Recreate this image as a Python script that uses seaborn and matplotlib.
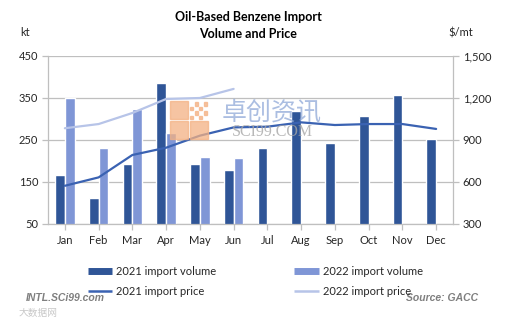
import numpy as np
import pandas as pd
import matplotlib
matplotlib.use("Agg")
import matplotlib.pyplot as plt
from matplotlib.lines import Line2D
from matplotlib.patches import Rectangle
import seaborn as sns

months = ["Jan", "Feb", "Mar", "Apr", "May", "Jun", "Jul", "Aug", "Sep", "Oct", "Nov", "Dec"]
vol_2021 = [167, 113, 192, 385, 194, 178, 232, 319, 242, 307, 357, 252]
vol_2022 = [350, 232, 324, 267, 210, 208]
price_2021 = [573, 633, 793, 845, 931, 990, 995, 1026, 1007, 1014, 1014, 979]
price_2022 = [984, 1014, 1093, 1193, 1200, 1265]
left_ticks = [50, 150, 250, 350, 450]
right_ticks = [300, 600, 900, 1200, 1500]

C_DARK = "#2F5597"
C_LIGHT = "#7F96D6"
C_L21 = "#3A62B2"
C_L22 = "#B7C4E8"
GRID = "#BFBFBF"
TXT = "#262626"

sns.set_theme(style="white")
plt.rcParams["font.family"] = ["Lato", "Noto Sans CJK SC", "DejaVu Sans"]

fig = plt.figure(figsize=(5.16, 3.24), dpi=100)
ax = fig.add_axes([48 / 516, 1 - 224 / 324, 405 / 516, 168 / 324])

rows = []
for m, v in zip(months, vol_2021):
    rows.append({"month": m, "year": "2021", "volume": v})
for m, v in zip(months, vol_2022):
    rows.append({"month": m, "year": "2022", "volume": v})
df_bar = pd.DataFrame(rows)

sns.barplot(data=df_bar, x="month", y="volume", hue="year", order=months,
            hue_order=["2021", "2022"], palette=[C_DARK, C_LIGHT], saturation=1,
            width=0.58, dodge=True, legend=False, ax=ax, zorder=2)

ax.set_ylim(50, 450)
ax.set_yticks(left_ticks)
ax.set_xlim(-0.5, len(months) - 0.5)
ax.yaxis.grid(True, color=GRID, lw=0.9, zorder=0)
ax.set_axisbelow(True)
ax.set_xlabel("")
ax.set_ylabel("")
for s in ["top", "right"]:
    ax.spines[s].set_visible(False)
for s in ["left", "bottom"]:
    ax.spines[s].set_color(GRID)
    ax.spines[s].set_linewidth(0.9)
ax.tick_params(axis="y", length=4, color=GRID, width=0.9, labelsize=8, labelcolor=TXT, pad=3)
ax.tick_params(axis="x", length=4, color=GRID, width=0.9, labelsize=8, labelcolor=TXT, pad=4)
ax.tick_params(axis="both", direction="out", left=True, bottom=True)

ax2 = ax.twinx()
df21 = pd.DataFrame({"x": np.arange(len(months)), "price": price_2021})
df22 = pd.DataFrame({"x": np.arange(len(price_2022)), "price": price_2022})
sns.lineplot(data=df21, x="x", y="price", color=C_L21, lw=1.6, ax=ax2, zorder=5)
sns.lineplot(data=df22, x="x", y="price", color=C_L22, lw=1.6, ax=ax2, zorder=5)
ax2.set_ylim(300, 1500)
ax2.set_yticks(right_ticks)
ax2.set_yticklabels([f"{t:,}" for t in right_ticks])
ax2.set_xlim(-0.5, len(months) - 0.5)
ax2.set_xlabel("")
ax2.set_ylabel("")
for s in ["top", "left", "bottom"]:
    ax2.spines[s].set_visible(False)
ax2.spines["right"].set_color(GRID)
ax2.spines["right"].set_linewidth(0.9)
ax2.tick_params(axis="y", right=True, direction="out", length=4, color=GRID, width=0.9,
                labelsize=8, labelcolor=TXT, pad=3)
ax2.grid(False)

# watermark
wm_x, wm_y = 170 / 516, 1 - 139 / 324
sq = 18 / 516
sqh = 18 / 324
for dx, dy in [(0, 0), (0, 1), (1, 0)]:
    fig.patches.append(Rectangle((wm_x + dx * (sq + 2 / 516), wm_y + dy * (sqh + 2 / 324)), sq, sqh,
                                 transform=fig.transFigure, color="#F4B183", alpha=0.75, zorder=3))
for i, j in [(0, 0), (2, 0), (1, 1), (3, 1), (0, 2), (2, 2), (1, 3), (3, 3)]:
    fig.patches.append(Rectangle((wm_x + sq + 2 / 516 + i * 4.5 / 516, wm_y + sqh + 2 / 324 + j * 4.5 / 324),
                                 3 / 516, 3 / 324, transform=fig.transFigure, color="#F4B183",
                                 alpha=0.75, zorder=3))
fig.text(272 / 516, 1 - 112 / 324, "卓创资讯", fontsize=18, color="#8FA8D8", alpha=0.75,
         ha="center", va="center", family=["Noto Sans CJK SC"], zorder=3)
fig.text(272 / 516, 1 - 132 / 324, "SCI99.COM", fontsize=11.5, color="#A6A6A6", alpha=0.8,
         ha="center", va="center", family=["Liberation Serif"], zorder=3)

# titles and units
fig.text(248 / 516, 1 - 17 / 324, "Oil-Based Benzene Import", fontsize=9, fontweight="bold",
         color="#000000", ha="center", va="center")
fig.text(248 / 516, 1 - 34 / 324, "Volume and Price", fontsize=9, fontweight="bold",
         color="#000000", ha="center", va="center")
fig.text(25 / 516, 1 - 33 / 324, "kt", fontsize=8, color=TXT, ha="center", va="center")
fig.text(461 / 516, 1 - 33 / 324, "$/mt", fontsize=8, color=TXT, ha="center", va="center")

handles = [Line2D([], [], color=C_DARK, lw=5, solid_capstyle="butt"),
           Line2D([], [], color=C_L21, lw=1.8, solid_capstyle="butt"),
           Line2D([], [], color=C_LIGHT, lw=5, solid_capstyle="butt"),
           Line2D([], [], color=C_L22, lw=1.8, solid_capstyle="butt")]
labels = ["2021 import volume", "2021 import price", "2022 import volume", "2022 import price"]
fig.legend(handles, labels, ncol=2, loc="upper left", bbox_to_anchor=(88 / 516, 1 - 266 / 324),
           frameon=False, fontsize=8, handlelength=2.2, handletextpad=0.35, columnspacing=7.0,
           labelspacing=0.82, borderpad=0, borderaxespad=0, labelcolor=TXT)

fig.text(65 / 516, 1 - 298 / 324, "INTL.SCi99.com", fontsize=7.5, fontweight="bold",
         style="italic", color="#7F7F7F", ha="center", va="center", family=["Liberation Sans"])
fig.text(38 / 516, 1 - 313 / 324, "大数据网", fontsize=7, color="#C8C8C8",
         ha="center", va="center", family=["Noto Sans CJK SC"])
fig.text(442 / 516, 1 - 298 / 324, "Source: GACC", fontsize=7.5, fontweight="bold",
         style="italic", color="#7F7F7F", ha="center", va="center", family=["Liberation Sans"])

fig.savefig("out.png", dpi=100)
